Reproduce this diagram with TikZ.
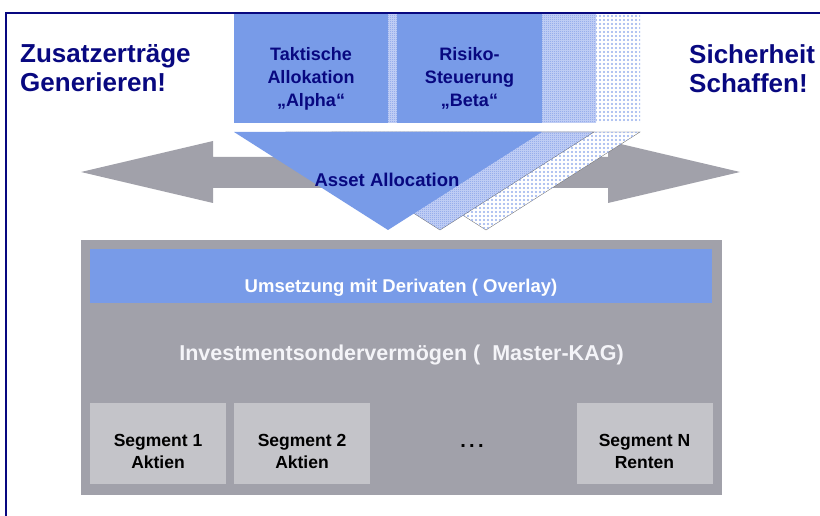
\documentclass[tikz,border=0pt]{standalone}
\usepackage{fontspec}
\setmainfont{Liberation Sans}
\usetikzlibrary{patterns,calc}
\definecolor{navy}{RGB}{8,8,128}
\definecolor{boxblue}{RGB}{120,155,232}
\definecolor{dotblue}{RGB}{125,155,232}
\definecolor{densebg}{RGB}{200,212,246}
\definecolor{arrowgray}{RGB}{161,161,170}
\definecolor{seggray}{RGB}{196,196,201}
\definecolor{paletext}{RGB}{244,244,248}
\pgfdeclarepatternformonly{bigdots}{\pgfqpoint{-1.2pt}{-1.2pt}}{\pgfqpoint{1.2pt}{1.2pt}}{\pgfqpoint{4pt}{4pt}}{%
  \pgfpathcircle{\pgfqpoint{0pt}{0pt}}{1.1pt}\pgfusepath{fill}}
\pgfdeclarepatternformonly{finechecker}{\pgfqpoint{0pt}{0pt}}{\pgfqpoint{2pt}{2pt}}{\pgfqpoint{2pt}{2pt}}{%
  \pgfpathrectangle{\pgfqpoint{0pt}{0pt}}{\pgfqpoint{1pt}{1pt}}%
  \pgfpathrectangle{\pgfqpoint{1pt}{1pt}}{\pgfqpoint{1pt}{1pt}}\pgfusepath{fill}}
\tikzset{
  headtext/.style={font=\fontsize{26}{29}\selectfont\bfseries, text=navy, align=left, inner sep=0pt},
  boxtext/.style={font=\fontsize{18}{23}\selectfont\bfseries, text=navy, align=center, inner sep=0pt},
  segbox/.style={fill=seggray, minimum width=136pt, minimum height=81pt, inner sep=0pt},
  segtext/.style={font=\fontsize{17.5}{22}\selectfont\bfseries, text=black, align=center, inner sep=0pt},
  denselayer/.style={fill=densebg, postaction={pattern=finechecker, pattern color=dotblue}},
  sparselayer/.style={fill=white, postaction={pattern=bigdots, pattern color=dotblue!80}},
  edgeline/.style={draw=gray!70!black, line width=0.3pt}
}
\begin{document}
\begin{tikzpicture}[x=1pt,y=-1pt]
\useasboundingbox (0,0) rectangle (820,516);
% double arrow behind
\fill[arrowgray] (81,172) -- (213,141) -- (213,157) -- (608,157) -- (608,141) -- (740,172)
  -- (608,203) -- (608,188) -- (213,188) -- (213,203) -- cycle;
% back layer (sparse dots)
\fill[sparselayer] (330,13) rectangle (640,123);
\path[sparselayer, edgeline] (332,132) -- (640,132) -- (486,230) -- cycle;
% middle layer (dense dots)
\fill[denselayer] (290,13) rectangle (596,123);
\path[denselayer, edgeline] (286,132) -- (594,132) -- (440,230) -- cycle;
% front layer
\node (tak) [fill=boxblue, minimum width=154pt, minimum height=110pt, inner sep=0pt] at (311,68) {};
\node (ris) [fill=boxblue, minimum width=145pt, minimum height=110pt, inner sep=0pt] at (469.5,68) {};
\fill[boxblue] (234,132) -- (542,132) -- (388,230) -- cycle;
\node (taktext) [boxtext, anchor=north] at (311,47) {Taktische\\Allokation\\„Alpha“};
\node (ristext) [boxtext, anchor=north] at (469.5,47) {Risiko-\\Steuerung\\„Beta“};
\node (asset) [font=\fontsize{18.5}{22}\selectfont\bfseries, text=navy, anchor=base, inner sep=0pt] at (387,186) {Asset Allocation};
% frame
\draw[navy, line width=1.6pt] (6,516) -- (6,13) -- (820,13);
% headings
\node (left) [headtext, anchor=north west] at (20,44) {Zusatzerträge\\Generieren!};
\node (right) [headtext, anchor=north west] at (689,44) {Sicherheit\\Schaffen!};
% bottom panel
\node (panel) [fill=arrowgray, minimum width=641pt, minimum height=255pt, inner sep=0pt] at (401.5,367.5) {};
\node (overlay) [fill=boxblue, minimum width=622pt, minimum height=54pt, inner sep=0pt] at (401,276) {};
\node (overlaytext) [font=\fontsize{18.5}{22}\selectfont\bfseries, text=white, anchor=base, inner sep=0pt] at (401,292) {Umsetzung mit Derivaten ( Overlay)};
\node (master) [font=\fontsize{21.5}{25}\selectfont\bfseries, text=paletext, anchor=base, inner sep=0pt] at (401.5,360) {Investmentsondervermögen (\ \ Master-KAG)};
\node (seg1) [segbox] at (158,443.5) {};
\node (seg2) [segbox] at (302,443.5) {};
\node (segn) [segbox] at (644.5,443.5) {};
\node (seg1text) [segtext, anchor=north] at (158,434.5) {Segment 1\\Aktien};
\node (seg2text) [segtext, anchor=north] at (302,434.5) {Segment 2\\Aktien};
\node (segntext) [segtext, anchor=north] at (644.5,434.5) {Segment N\\Renten};
\node (dots) [font=\fontsize{20}{24}\selectfont\bfseries, text=black, anchor=base, inner sep=0pt] at (472,447) {.\,.\,.};
\end{tikzpicture}
\end{document}
